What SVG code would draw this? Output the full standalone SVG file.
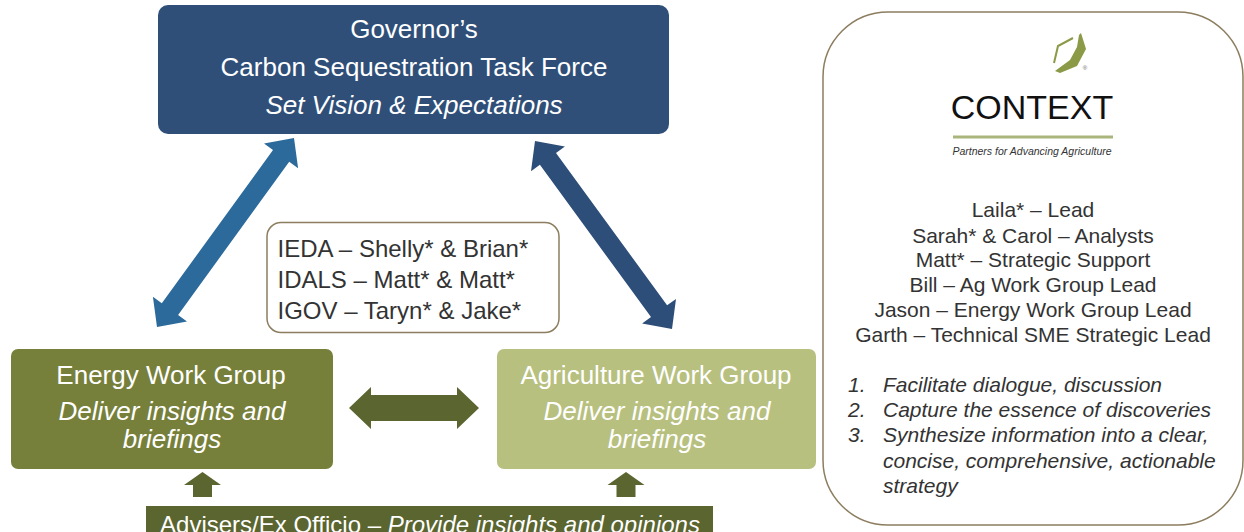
<svg xmlns="http://www.w3.org/2000/svg" width="1244" height="532" viewBox="0 0 1244 532">
<style>
text{font-family:"Liberation Sans",Arial,sans-serif}
.w{fill:#ffffff}
.t26{font-size:26px}
.i{font-style:italic}
.g{fill:#333333}
.olive{fill:#5b6530}
</style>
<rect width="1244" height="532" fill="#ffffff"/>
<g id="connectors">
<polygon points="294,138 298.1,168.2 289.2,161.7 178.1,315.0 187.0,321.5 157,327 152.9,296.8 161.8,303.3 273.0,150.0 264.0,143.5" fill="#2b6a9b"/>
<polygon points="535,141 564.9,146.4 556.0,152.9 667.1,305.3 676.0,298.9 672,329 642.1,323.6 651.0,317.1 539.9,164.7 531.0,171.2" fill="#2d4e78"/>
<polygon class="olive" points="349,408 371,387 371,395 457,395 457,387 479,408 457,429 457,421 371,421 371,429"/>
<polygon class="olive" points="202.5,472 221,485 212,485 212,497 193,497 193,485 184,485"/>
<polygon class="olive" points="626,472 644.5,485 635.5,485 635.5,497 616.5,497 616.5,485 607.5,485"/>
</g>
<g id="governor">
<rect x="158" y="5" width="511" height="129" rx="10" fill="#2f4f79"/>
<text class="w t26" x="414" y="38" text-anchor="middle">Governor’s</text>
<text class="w t26" x="414" y="76" text-anchor="middle">Carbon Sequestration Task Force</text>
<text class="w t26 i" x="414" y="114" text-anchor="middle">Set Vision &amp; Expectations</text>
</g>
<g id="agencies">
<rect x="267" y="222.5" width="292" height="110" rx="14" fill="#ffffff" stroke="#8c7d5f" stroke-width="1.5"/>
<text class="g" font-size="24" x="277.5" y="257">IEDA – Shelly* &amp; Brian*</text>
<text class="g" font-size="24" x="277.5" y="288">IDALS – Matt* &amp; Matt*</text>
<text class="g" font-size="24" x="277.5" y="319">IGOV – Taryn* &amp; Jake*</text>
</g>
<g id="energy">
<rect x="11" y="349" width="322" height="120" rx="7" fill="#77803b"/>
<text class="w t26" x="171" y="384" text-anchor="middle">Energy Work Group</text>
<text class="w t26 i" x="172" y="420" text-anchor="middle">Deliver insights and</text>
<text class="w t26 i" x="172" y="448" text-anchor="middle">briefings</text>
</g>
<g id="agriculture">
<rect x="497" y="349" width="319" height="120" rx="7" fill="#b8c07f"/>
<text class="w t26" x="656" y="384" text-anchor="middle">Agriculture Work Group</text>
<text class="w t26 i" x="657" y="420" text-anchor="middle">Deliver insights and</text>
<text class="w t26 i" x="657" y="448" text-anchor="middle">briefings</text>
</g>
<g id="advisers">
<rect class="olive" x="146" y="506" width="567" height="30"/>
<text class="w" font-size="24" x="430" y="533" text-anchor="middle">Advisers/Ex Officio – <tspan class="i">Provide insights and opinions</tspan></text>
</g>
<g id="context">
<rect x="823" y="12" width="420" height="513" rx="65" fill="#ffffff" stroke="#8c7d5f" stroke-width="1.5"/>
<polygon points="1081,33 1086,49 1077,66 1060,73 1055,71 1070,60 1077,47 1079,35" fill="#8a9a46"/>
<polyline points="1073,38 1058,46 1054,63" fill="none" stroke="#8a9a46" stroke-width="2"/>
<text x="1085" y="70" font-size="6" fill="#666666" text-anchor="middle">®</text>
<text x="1032" y="119" font-size="34" fill="#111111" text-anchor="middle">CONTEXT</text>
<line x1="953" y1="137" x2="1113" y2="137" stroke="#a9b57b" stroke-width="3"/>
<text x="1032" y="155" font-size="10.5" fill="#333333" font-style="italic" text-anchor="middle">Partners for Advancing Agriculture</text>
<g class="g" font-size="21" text-anchor="middle">
<text class="g" x="1033" y="217">Laila* – Lead</text>
<text class="g" x="1033" y="243">Sarah* &amp; Carol – Analysts</text>
<text class="g" x="1033" y="267">Matt* – Strategic Support</text>
<text class="g" x="1033" y="292">Bill – Ag Work Group Lead</text>
<text class="g" x="1033" y="317">Jason – Energy Work Group Lead</text>
<text class="g" x="1033" y="342">Garth – Technical SME Strategic Lead</text>
</g>
<g class="g" font-size="21" font-style="italic">
<text class="g" x="848" y="392">1.</text>
<text class="g" x="883" y="392">Facilitate dialogue, discussion</text>
<text class="g" x="848" y="417">2.</text>
<text class="g" x="883" y="417">Capture the essence of discoveries</text>
<text class="g" x="848" y="442">3.</text>
<text class="g" x="883" y="442">Synthesize information into a clear,</text>
<text class="g" x="883" y="468">concise, comprehensive, actionable</text>
<text class="g" x="883" y="493">strategy</text>
</g>
</g>
</svg>
